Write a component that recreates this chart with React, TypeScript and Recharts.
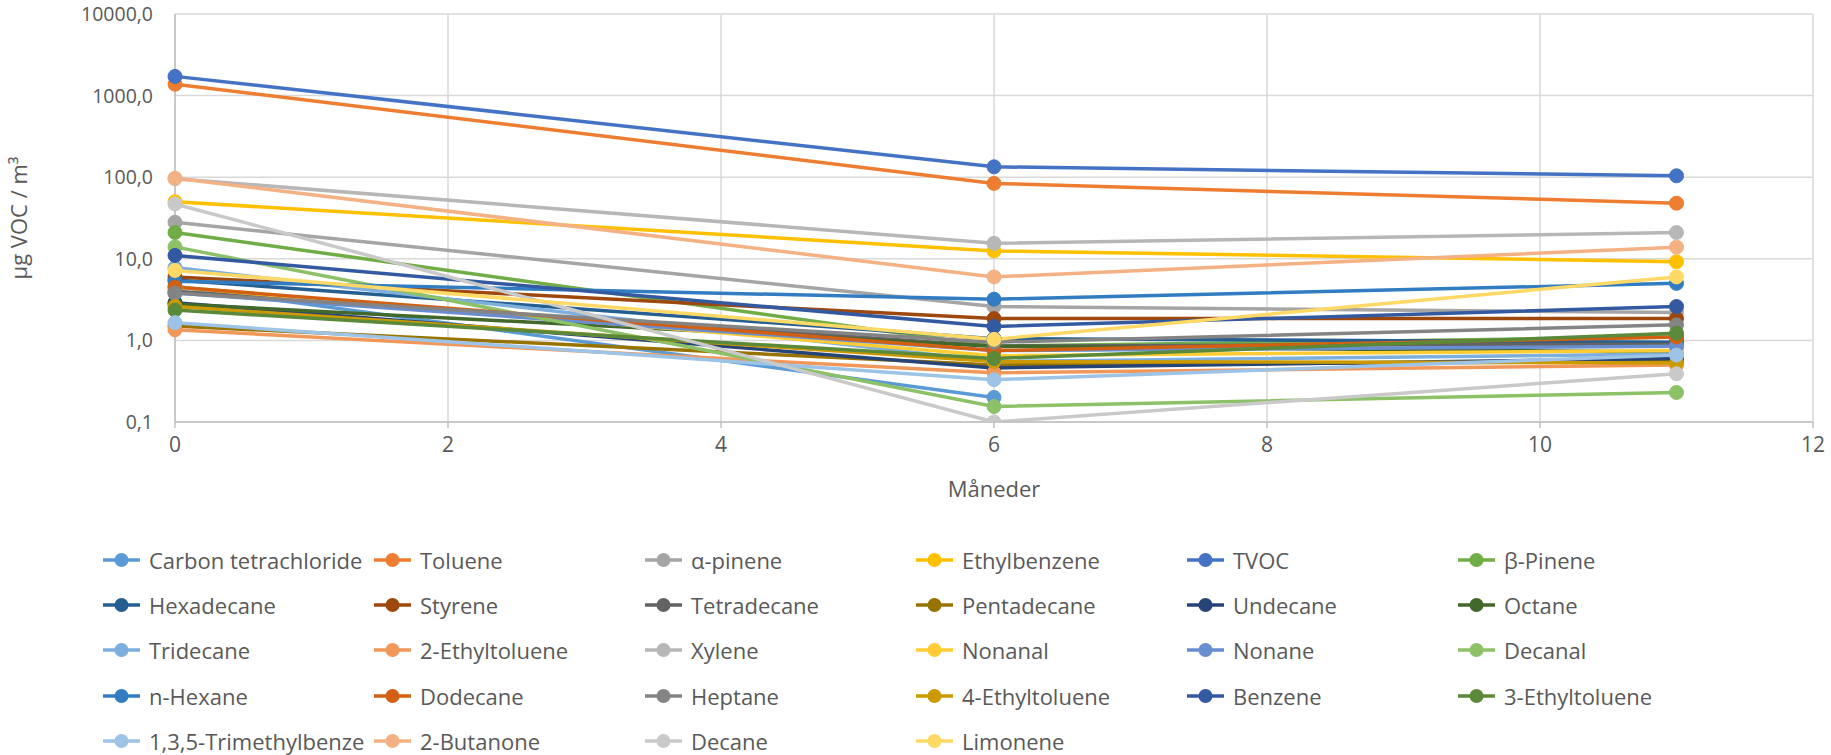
import React from 'react';
import { LineChart, Line, XAxis, YAxis, CartesianGrid, Legend } from 'recharts';

const months = [0, 6, 11];
const xTicks = [0, 2, 4, 6, 8, 10, 12];
const yTicks = [0.1, 1, 10, 100, 1000, 10000];

const seriesNames = [
  'Carbon tetrachloride', 'Toluene', 'α-pinene', 'Ethylbenzene', 'TVOC', 'β-Pinene',
  'Hexadecane', 'Styrene', 'Tetradecane', 'Pentadecane', 'Undecane', 'Octane',
  'Tridecane', '2-Ethyltoluene', 'Xylene', 'Nonanal', 'Nonane', 'Decanal',
  'n-Hexane', 'Dodecane', 'Heptane', '4-Ethyltoluene', 'Benzene', '3-Ethyltoluene',
  '1,3,5-Trimethylbenze', '2-Butanone', 'Decane', 'Limonene',
];

const seriesColors = [
  '#5B9BD5', '#ED7D31', '#A5A5A5', '#FFC000', '#4472C4', '#70AD47',
  '#255E91', '#9E480E', '#636363', '#997300', '#264478', '#43682B',
  '#7CAFDD', '#F1975A', '#B7B7B7', '#FFCD33', '#698ED0', '#8CC168',
  '#327DC2', '#D26012', '#848484', '#CC9A00', '#335AA1', '#5A8A39',
  '#9DC3E6', '#F4B183', '#C9C9C9', '#FFD966',
];

const carbonTetrachloride = [4.6, 0.2, null];
const toluene = [1380, 84, 48];
const alphaPinene = [28, 2.6, 2.2];
const ethylbenzene = [50, 12.5, 9.2];
const tvoc = [1720, 134, 104];
const betaPinene = [21, 0.85, 1.1];
const hexadecane = [5.5, 1.05, 0.95];
const styrene = [6.0, 1.85, 1.85];
const tetradecane = [4.0, 0.85, 0.9];
const pentadecane = [1.5, 0.5, 0.55];
const undecane = [2.9, 0.46, 0.6];
const octane = [2.8, 0.85, 0.72];
const tridecane = [7.8, 0.55, 0.68];
const ethyltoluene2 = [1.35, 0.4, 0.5];
const xylene = [96, 15.5, 21];
const nonanal = [4.5, 0.65, 0.75];
const nonane = [3.8, 0.75, 0.85];
const decanal = [14, 0.155, 0.23];
const nHexane = [5.3, 3.2, 5.0];
const dodecane = [4.5, 0.75, 1.1];
const heptane = [3.8, 0.95, 1.55];
const ethyltoluene4 = [2.6, 0.55, 0.53];
const benzene = [11, 1.48, 2.6];
const ethyltoluene3 = [2.35, 0.6, 1.22];
const trimethylbenzene = [1.65, 0.33, 0.66];
const butanone = [97, 6.0, 13.9];
const decane = [47, 0.1, 0.39];
const limonene = [7.2, 1.03, 6.0];

const seriesValues = [
  carbonTetrachloride, toluene, alphaPinene, ethylbenzene, tvoc, betaPinene,
  hexadecane, styrene, tetradecane, pentadecane, undecane, octane,
  tridecane, ethyltoluene2, xylene, nonanal, nonane, decanal,
  nHexane, dodecane, heptane, ethyltoluene4, benzene, ethyltoluene3,
  trimethylbenzene, butanone, decane, limonene,
];

const data = months.map((m, i) => {
  const row: Record<string, number | null> = { m };
  seriesValues.forEach((vals, s) => {
    row['s' + s] = vals[i];
  });
  return row;
});

const FONT = '"Open Sans", sans-serif';
const TEXT = '#595959';

const fmt = (v: number) => v.toFixed(1).replace('.', ',');

const renderLegend = () => (
  <div
    style={{
      display: 'grid',
      gridTemplateColumns: 'repeat(6, 271px)',
      fontFamily: FONT,
      fontSize: 22,
      lineHeight: '24px',
      color: TEXT,
    }}
  >
    {seriesNames.map((n, i) => (
      <div key={n} style={{ height: 45.3, display: 'flex', alignItems: 'center' }}>
        <svg width={37} height={16} style={{ flex: 'none' }}>
          <line x1={0} y1={8} x2={37} y2={8} stroke={seriesColors[i]} strokeWidth={3.5} />
          <circle cx={18.5} cy={8} r={7} fill={seriesColors[i]} />
        </svg>
        <span style={{ marginLeft: 9, whiteSpace: 'nowrap' }}>{n}</span>
      </div>
    ))}
  </div>
);

const YLabel = (props: any) => {
  const vb = props.viewBox || { x: 0, y: 14, width: 175, height: 408 };
  const cx = vb.x + 18;
  const cy = vb.y + vb.height / 2;
  return (
    <text
      x={cx}
      y={cy}
      transform={`rotate(-90, ${cx}, ${cy})`}
      textAnchor="middle"
      dominantBaseline="central"
      fill={TEXT}
      fontSize={22}
      fontFamily={FONT}
    >
      µg VOC / m³
    </text>
  );
};

export default function App() {
  return (
    <div style={{ position: 'absolute', left: 0, top: 0, width: 1831, height: 755, background: '#fff' }}>
      <LineChart
        width={1831}
        height={755}
        data={data}
        margin={{ top: 14, right: 18, left: 0, bottom: 253 }}
      >
        <CartesianGrid stroke="#D9D9D9" strokeWidth={1.5} />
        <XAxis
          dataKey="m"
          type="number"
          domain={[0, 12]}
          ticks={xTicks}
          height={80}
          stroke="#BFBFBF"
          strokeWidth={1.5}
          tickSize={6}
          tickMargin={9}
          tick={{ fill: TEXT, fontSize: 21, fontFamily: FONT }}
          label={{ value: 'Måneder', position: 'insideBottom', offset: 5, fill: TEXT, fontSize: 22, fontFamily: FONT }}
        />
        <YAxis
          scale="log"
          type="number"
          domain={[0.1, 10000]}
          ticks={yTicks}
          allowDataOverflow
          width={175}
          stroke="#BFBFBF"
          strokeWidth={1.5}
          tickLine={false}
          tickSize={0}
          tickMargin={22}
          tickFormatter={fmt}
          tick={{ fill: TEXT, fontSize: 19.5, fontFamily: FONT }}
          label={<YLabel />}
        />
        <Legend
          layout="horizontal"
          verticalAlign="middle"
          align="center"
          content={renderLegend}
          wrapperStyle={{ position: 'absolute', left: 103, top: 537, width: 1700, height: 215 }}
        />
        {seriesNames.map((n, i) => (
          <Line
            key={n}
            dataKey={'s' + i}
            name={n}
            stroke={seriesColors[i]}
            strokeWidth={3.5}
            dot={{ r: 7, fill: seriesColors[i], stroke: seriesColors[i], strokeWidth: 1 }}
            activeDot={false}
            isAnimationActive={false}
            connectNulls={false}
          />
        ))}
      </LineChart>
    </div>
  );
}
